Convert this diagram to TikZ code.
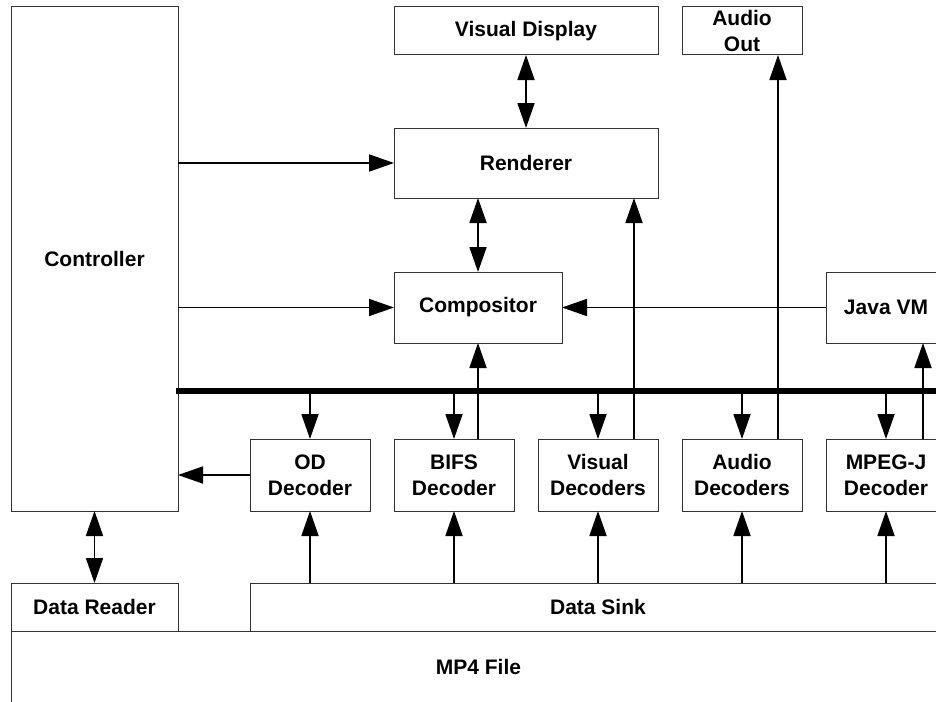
\documentclass[tikz,border=0pt]{standalone}
\usepackage{fontspec}
\setmainfont{Liberation Sans}
\usetikzlibrary{arrows.meta,positioning}
\tikzset{
  blk/.style={draw=black!80,line width=1pt,fill=white,inner sep=0pt,outer sep=0pt,align=center,font=\bfseries\fontsize{21}{26}\selectfont},
  dec/.style={blk,minimum width=120pt,minimum height=72pt},
  flow/.style={line width=1.8pt,-{Triangle[length=25pt,width=17pt]}},
  twoway/.style={line width=1.8pt,{Triangle[length=25pt,width=17pt]}-{Triangle[length=25pt,width=17pt]}},
  bus/.style={line width=5.5pt}
}

\begin{document}
\begin{tikzpicture}[x=1pt,y=-1pt]
  \useasboundingbox (0,0) rectangle (936,701);
  \clip (0,0) rectangle (936,701);
  % file level
  \node[blk,minimum width=935pt,minimum height=72pt] (mp4) at (478.5,667) {MP4 File};
  \node[blk,minimum width=167pt,minimum height=48pt] (reader) at (94.5,607) {Data Reader};
  \node[blk,minimum width=696pt,minimum height=48pt] (sink) at (598,607) {Data Sink};
  % upper blocks
  \node[blk,minimum width=167pt,minimum height=504pt] (ctrl) at (94.5,259) {Controller};
  \node[blk,minimum width=264pt,minimum height=48pt] (vdisp) at (526,31) {Visual Display};
  \node[blk,minimum width=120pt,minimum height=48pt] (aout) at (742,31) {Audio\\Out};
  \node[blk,minimum width=264pt,minimum height=70pt] (rend) at (526,163) {Renderer};
  \node[blk,minimum width=168pt,minimum height=71pt] (comp) at (478,307.5) {Compositor};
  \node[blk,minimum width=120pt,minimum height=71pt] (jvm) at (886,307.5) {Java VM};
  % decoders
  \node[dec] (oddec) at (310,475) {OD\\Decoder};
  \node[dec] (bifsdec) at (454,475) {BIFS\\Decoder};
  \node[dec] (visdec) at (598,475) {Visual\\Decoders};
  \node[dec] (auddec) at (742,475) {Audio\\Decoders};
  \node[dec] (mpjdec) at (886,475) {MPEG-J\\Decoder};
  % bus
  \coordinate (busL) at (176,391);
  \coordinate (busR) at (946,391);
  \draw[bus] (busL) -- (busR);
  \foreach \d in {oddec,bifsdec,visdec,auddec,mpjdec} {
    \draw[flow] (\d.north |- busL) -- (\d.north);
    \draw[flow] (\d.south |- sink.north) -- (\d.south);
  }
  % outputs of the decoders
  \draw[flow] (bifsdec.north -| comp.south) -- (comp.south);
  \draw[flow] ([xshift=36pt]visdec.north) -- ([xshift=36pt]visdec.north |- rend.south);
  \draw[flow] ([xshift=36pt]auddec.north) -- ([xshift=36pt]auddec.north |- aout.south);
  \draw[flow] ([xshift=37pt]mpjdec.north) -- ([xshift=37pt]mpjdec.north |- jvm.south);
  \draw[flow] (oddec.west) -- (oddec.west -| ctrl.east);
  \draw[flow] (jvm.west) -- (comp.east);
  % controller links
  \draw[flow] (ctrl.east |- rend.west) -- (rend.west);
  \draw[flow] (ctrl.east |- comp.west) -- (comp.west);
  \draw[twoway] (ctrl.south) -- (reader.north);
  \draw[twoway] (vdisp.south) -- (rend.north);
  \draw[twoway] (rend.south -| comp.north) -- (comp.north);
\end{tikzpicture}
\end{document}
